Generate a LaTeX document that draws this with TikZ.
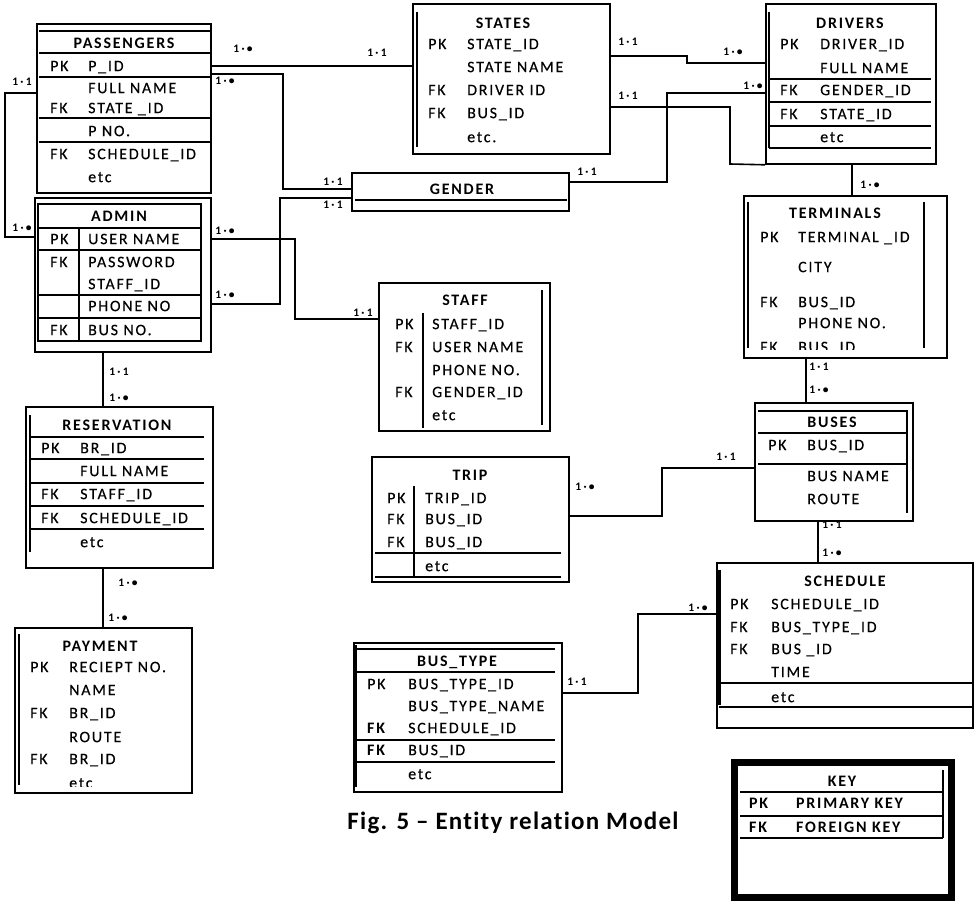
\documentclass[tikz,border=0pt]{standalone}
\usepackage{fontspec}
\usetikzlibrary{fit}
\newfontfamily\calf[LetterSpace=11,FakeBold=0.3,Ligatures=NoCommon]{Carlito}
\newfontfamily\calb[LetterSpace=11,Ligatures=NoCommon]{Carlito}
\newfontfamily\calc[LetterSpace=20]{Carlito}
\newfontfamily\calcap[LetterSpace=5,Ligatures=NoCommon]{Carlito}
\newcommand\fldfont{\calf\fontsize{16}{16}\selectfont}
\newcommand\ttlfont{\calb\bfseries\fontsize{16}{16}\selectfont}
\newcommand\crdfont{\calc\bfseries\fontsize{11.5}{11.5}\selectfont}
\newcommand\capfont{\calcap\bfseries\fontsize{25}{25}\selectfont}
\tikzset{
 ln/.style={line width=1.6pt},
 thk/.style={line width=3pt},
 con/.style={line width=1.6pt},
 box/.style={draw, line width=1.6pt, inner sep=0pt},
 fld/.style={anchor=west, inner sep=0pt, font=\fldfont, text height=10.3pt, text depth=0pt},
 bfld/.style={fld, font=\ttlfont},
 ttl/.style={inner sep=0pt, font=\ttlfont, text height=10.3pt, text depth=0pt},
 crd/.style={inner sep=0pt, font=\crdfont, text height=7.4pt, text depth=0pt},
 capt/.style={inner sep=0pt, font=\capfont, text height=16pt, text depth=0pt},
}
\newcommand\entbox[5]{\node[box, fit={(#2,#3) (#4,#5)}] (#1) {};}
\newcommand\fldnode[4]{\node[fld] (#1) at (#2,#3) {#4};}
\newcommand\bfldnode[4]{\node[bfld] (#1) at (#2,#3) {#4};}
\newcommand\ttlnode[4]{\node[ttl] (#1) at (#2,#3) {#4};}
\newcommand\crdnode[4]{\node[crd] (#1) at (#2,#3) {#4};}
\begin{document}
\begin{tikzpicture}[x=1pt,y=-1pt]
\useasboundingbox (0,0) rectangle (975,901);
\fill[white] (0,0) rectangle (975,901);

% PASSENGERS
\entbox{pass}{37}{24}{211}{193}
\foreach \yy in {31,53,77,118,142} \draw[ln] (39,\yy) -- (211,\yy);
\ttlnode{passT}{124}{43}{PASSENGERS}
\fldnode{passK1}{50}{66}{PK}
\fldnode{passF1}{88}{66}{P\_ID}
\fldnode{passF2}{88}{88}{FULL NAME}
\fldnode{passK3}{50}{108}{FK}
\fldnode{passF3}{88}{108}{STATE \_ID}
\fldnode{passF4}{88}{131}{P NO.}
\fldnode{passK5}{50}{154}{FK}
\fldnode{passF5}{88}{154}{SCHEDULE\_ID}
\fldnode{passF6}{88}{177}{etc}

% ADMIN
\entbox{admin}{35}{198}{211}{352}
\draw[ln] (38,204) rectangle (201,341);
\foreach \yy in {228,250,295,318} \draw[ln] (38,\yy) -- (201,\yy);
\draw[ln] (79,228) -- (79,341);
\ttlnode{adminT}{119}{216}{ADMIN}
\fldnode{adminK1}{50}{239}{PK}
\fldnode{adminF1}{88}{239}{USER NAME}
\fldnode{adminK2}{50}{262}{FK}
\fldnode{adminF2}{88}{262}{PASSWORD}
\fldnode{adminF3}{88}{284}{STAFF\_ID}
\fldnode{adminF4}{88}{306}{PHONE NO}
\fldnode{adminK5}{50}{330}{FK}
\fldnode{adminF5}{88}{330}{BUS NO.}

% STATES
\entbox{states}{413}{4}{610}{154}
\draw[ln] (417,12) -- (417,147);
\ttlnode{statesT}{503}{23}{STATES}
\fldnode{statesK1}{428}{44}{PK}
\fldnode{statesF1}{467}{44}{STATE\_ID}
\fldnode{statesF2}{467}{67}{STATE NAME}
\fldnode{statesK3}{428}{90}{FK}
\fldnode{statesF3}{467}{90}{DRIVER ID}
\fldnode{statesK4}{428}{113}{FK}
\fldnode{statesF4}{467}{113}{BUS\_ID}
\fldnode{statesF5}{467}{137}{etc.}

% DRIVERS
\entbox{drivers}{766}{4}{936}{164}
\draw[ln] (769,12) -- (769,148);
\foreach \yy in {79,102,126,148} \draw[ln] (769,\yy) -- (931,\yy);
\ttlnode{driversT}{850}{23}{DRIVERS}
\fldnode{driversK1}{780}{44}{PK}
\fldnode{driversF1}{820}{44}{DRIVER\_ID}
\fldnode{driversF2}{820}{68}{FULL NAME}
\fldnode{driversK3}{780}{90}{FK}
\fldnode{driversF3}{820}{90}{GENDER\_ID}
\fldnode{driversK4}{780}{114}{FK}
\fldnode{driversF4}{820}{114}{STATE\_ID}
\fldnode{driversF5}{820}{137}{etc}

% GENDER
\entbox{gender}{352}{173}{569}{211}
\draw[ln] (355,200) -- (567,200);
\ttlnode{genderT}{462}{189}{GENDER}

% TERMINALS
\entbox{term}{744}{196}{947}{358}
\draw[ln] (748,202) -- (748,348);
\draw[ln] (924,202) -- (924,348);
\ttlnode{termT}{835}{213}{TERMINALS}
\fldnode{termK1}{760}{237}{PK}
\fldnode{termF1}{798}{237}{TERMINAL \_ID}
\fldnode{termF2}{798}{267}{CITY}
\fldnode{termK3}{760}{302}{FK}
\fldnode{termF3}{798}{302}{BUS\_ID}
\fldnode{termF4}{798}{323}{PHONE NO.}
\begin{scope}
\clip (744,196) rectangle (947,350);
\fldnode{termK5}{760}{347}{FK}
\fldnode{termF5}{798}{347}{BUS\_ID}
\end{scope}

% STAFF
\entbox{staff}{379}{283}{550}{431}
\draw[ln] (423,313) -- (423,428);
\draw[ln] (542,290) -- (542,425);
\ttlnode{staffT}{465}{300}{STAFF}
\fldnode{staffK1}{395}{324}{PK}
\fldnode{staffF1}{432}{324}{STAFF\_ID}
\fldnode{staffK2}{395}{347}{FK}
\fldnode{staffF2}{432}{347}{USER NAME}
\fldnode{staffF3}{432}{370}{PHONE NO.}
\fldnode{staffK4}{395}{392}{FK}
\fldnode{staffF4}{432}{392}{GENDER\_ID}
\fldnode{staffF5}{432}{415}{etc}

% RESERVATION
\entbox{resv}{26}{407}{213}{568}
\draw[ln] (30,415) -- (30,552);
\foreach \yy in {437,459,483,506,529} \draw[ln] (30,\yy) -- (204,\yy);
\ttlnode{resvT}{117}{425}{RESERVATION}
\fldnode{resvK1}{41}{448}{PK}
\fldnode{resvF1}{80}{448}{BR\_ID}
\fldnode{resvF2}{80}{471}{FULL NAME}
\fldnode{resvK3}{41}{494}{FK}
\fldnode{resvF3}{80}{494}{STAFF\_ID}
\fldnode{resvK4}{41}{518}{FK}
\fldnode{resvF4}{80}{518}{SCHEDULE\_ID}
\fldnode{resvF5}{80}{542}{etc}

% PAYMENT
\entbox{pay}{15}{628}{192}{793}
\draw[ln] (19,634) -- (19,785);
\ttlnode{payT}{100}{646}{PAYMENT}
\fldnode{payK1}{30}{667}{PK}
\fldnode{payF1}{69}{667}{RECIEPT NO.}
\fldnode{payF2}{69}{690}{NAME}
\fldnode{payK3}{30}{713}{FK}
\fldnode{payF3}{69}{713}{BR\_ID}
\fldnode{payF4}{69}{737}{ROUTE}
\fldnode{payK5}{30}{759}{FK}
\fldnode{payF5}{69}{759}{BR\_ID}
\begin{scope}
\clip (15,628) rectangle (192,786);
\fldnode{payF6}{69}{783}{etc}
\end{scope}

% TRIP
\entbox{trip}{372}{457}{569}{582}
\draw[ln] (414,486) -- (414,577);
\foreach \yy in {553,577} \draw[ln] (375,\yy) -- (561,\yy);
\ttlnode{tripT}{470}{475}{TRIP}
\fldnode{tripK1}{387}{498}{PK}
\fldnode{tripF1}{425}{498}{TRIP\_ID}
\fldnode{tripK2}{387}{519}{FK}
\fldnode{tripF2}{425}{519}{BUS\_ID}
\fldnode{tripK3}{387}{542}{FK}
\fldnode{tripF3}{425}{542}{BUS\_ID}
\fldnode{tripF4}{425}{566}{etc}

% BUSES
\entbox{buses}{755}{403}{913}{521}
\draw[ln] (758,411) -- (907,411) -- (907,513);
\foreach \yy in {433,464} \draw[ln] (758,\yy) -- (907,\yy);
\ttlnode{busesT}{832}{422}{BUSES}
\fldnode{busesK1}{768}{445}{PK}
\fldnode{busesF1}{807}{445}{BUS\_ID}
\fldnode{busesF2}{807}{476}{BUS NAME}
\fldnode{busesF3}{807}{499}{ROUTE}

% SCHEDULE
\entbox{sched}{717}{563}{973}{728}
\draw[thk] (719,570) -- (719,705);
\foreach \yy in {683,707} \draw[ln] (719,\yy) -- (973,\yy);
\ttlnode{schedT}{845}{581}{SCHEDULE}
\fldnode{schedK1}{730}{604}{PK}
\fldnode{schedF1}{771}{604}{SCHEDULE\_ID}
\fldnode{schedK2}{730}{627}{FK}
\fldnode{schedF2}{771}{627}{BUS\_TYPE\_ID}
\fldnode{schedK3}{730}{649}{FK}
\fldnode{schedF3}{771}{649}{BUS \_ID}
\fldnode{schedF4}{771}{672}{TIME}
\fldnode{schedF5}{771}{697}{etc}

% BUS_TYPE
\entbox{btype}{354}{643}{562}{792}
\draw[thk] (355,645) -- (355,787);
\foreach \yy in {649,672,740,762} \draw[ln] (355,\yy) -- (555,\yy);
\ttlnode{btypeT}{457}{661}{BUS\_TYPE}
\fldnode{btypeK1}{367}{684}{PK}
\fldnode{btypeF1}{408}{684}{BUS\_TYPE\_ID}
\fldnode{btypeF2}{408}{706}{BUS\_TYPE\_NAME}
\bfldnode{btypeK3}{367}{728}{FK}
\fldnode{btypeF3}{408}{728}{SCHEDULE\_ID}
\bfldnode{btypeK4}{367}{750}{FK}
\fldnode{btypeF4}{408}{750}{BUS\_ID}
\fldnode{btypeF5}{408}{774}{etc}

% KEY
\node[draw, line width=7pt, inner sep=0pt, fit={(734,762) (951,897)}] (key) {};
\draw[ln] (943,770) -- (943,838);
\foreach \yy in {792,816,838} \draw[ln] (740,\yy) -- (943,\yy);
\ttlnode{keyT}{842}{781}{KEY}
\bfldnode{keyK1}{749}{803}{PK}
\bfldnode{keyF1}{796}{803}{PRIMARY KEY}
\bfldnode{keyK2}{749}{827}{FK}
\bfldnode{keyF2}{796}{827}{FOREIGN KEY}

% caption
\node[capt] (caption) at (513,821) {Fig. 5 – Entity relation Model};

% connectors
\draw[con] (pass.west |- 0,93) -- (5,93) -- (5,237) -- (admin.west |- 0,237);
\draw[con] (pass.east |- 0,66) -- (states.west |- 0,66);
\draw[con] (pass.east |- 0,74) -- (283,74) -- (283,189) -- (gender.west |- 0,189);
\draw[con] (admin.east |- 0,304) -- (280,304) -- (280,198) -- (gender.west |- 0,198);
\draw[con] (admin.east |- 0,239) -- (295,239) -- (295,319) -- (staff.west |- 0,319);
\draw[con] (admin.south -| 103,0) -- (resv.north -| 103,0);
\draw[con] (resv.south -| 103,0) -- (pay.north -| 103,0);
\draw[con] (states.east |- 0,56) -- (687,56) -- (687,63) -- (drivers.west |- 0,63);
\draw[con] (states.east |- 0,107) -- (730,107) -- (730,164) -- (drivers.south west);
\draw[con] (gender.east |- 0,182) -- (667,182) -- (667,93) -- (drivers.west |- 0,93);
\draw[con] (drivers.south -| 852,0) -- (term.north -| 852,0);
\draw[con] (term.south -| 806,0) -- (buses.north -| 806,0);
\draw[con] (buses.west |- 0,468) -- (662,468) -- (662,516) -- (trip.east |- 0,516);
\draw[con] (buses.south -| 818,0) -- (sched.north -| 818,0);
\draw[con] (sched.west |- 0,614) -- (638,614) -- (638,693) -- (btype.east |- 0,693);

% cardinalities
\crdnode{c1}{22}{82}{1·1}
\crdnode{c2}{22}{228}{1·•}
\crdnode{c3}{243}{49}{1·•}
\crdnode{c4}{377}{53}{1·1}
\crdnode{c5}{225}{81}{1·•}
\crdnode{c6}{333}{182}{1·1}
\crdnode{c7}{225}{295}{1·•}
\crdnode{c8}{333}{205}{1·1}
\crdnode{c9}{225}{231}{1·•}
\crdnode{c10}{363}{313}{1·1}
\crdnode{c11}{119}{372}{1·1}
\crdnode{c12}{119}{398}{1·•}
\crdnode{c13}{128}{583}{1·•}
\crdnode{c14}{118}{618}{1·•}
\crdnode{c15}{628}{42}{1·1}
\crdnode{c16}{733}{52}{1·•}
\crdnode{c17}{628}{96}{1·1}
\crdnode{c18}{587}{172}{1·1}
\crdnode{c19}{753}{86}{1·•}
\crdnode{c20}{870}{185}{1·•}
\crdnode{c21}{819}{367}{1·1}
\crdnode{c22}{819}{390}{1·•}
\crdnode{c23}{726}{457}{1·1}
\crdnode{c24}{585}{487}{1·•}
\crdnode{c25}{832}{525}{1·1}
\crdnode{c26}{832}{553}{1·•}
\crdnode{c27}{698}{608}{1·•}
\crdnode{c28}{577}{682}{1·1}
\end{tikzpicture}
\end{document}
